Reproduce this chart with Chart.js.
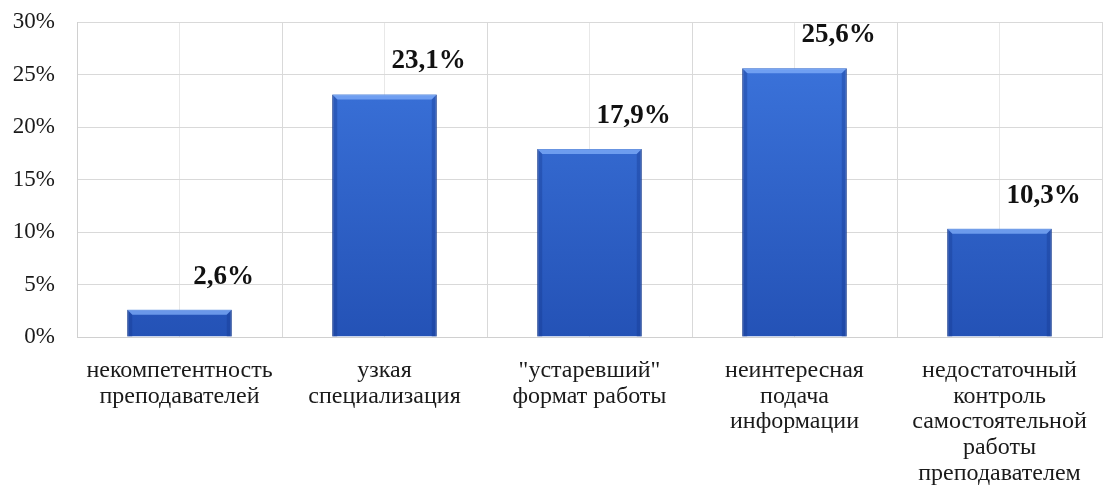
<!DOCTYPE html>
<html lang="ru">
<head>
    <meta charset="UTF-8">
    <title>Причины неудовлетворённости</title>
    <script src="https://cdn.jsdelivr.net/npm/chart.js"></script>
    <style>
        html, body { margin: 0; padding: 0; background: #fff; }
        #wrap { width: 1103px; height: 489px; position: relative; }
    </style>
</head>
<body>
    <div id="wrap"><canvas id="grafico"></canvas></div>

    <script>
        // dados
        const categorias = [
            ['некомпетентность', 'преподавателей'],
            ['узкая', 'специализация'],
            ['"устаревший"', 'формат работы'],
            ['неинтересная', 'подача', 'информации'],
            ['недостаточный', 'контроль', 'самостоятельной', 'работы', 'преподавателем']
        ];
        const valores = [2.6, 23.1, 17.9, 25.6, 10.3];
        const eixoMin = 0;
        const eixoMax = 30;
        const eixoPasso = 5;

        const fonte = '"Liberation Serif", "Times New Roman", serif';

        function formata(v) {
            return v.toFixed(1).replace('.', ',') + '%';
        }

        // rótulos de valor acima e à direita de cada barra
        const rotulosPlugin = {
            id: 'rotulos',
            afterDatasetsDraw(chart) {
                const ctx = chart.ctx;
                const meta = chart.getDatasetMeta(0);
                ctx.save();
                ctx.font = 'bold 27px ' + fonte;
                ctx.fillStyle = '#111';
                ctx.textAlign = 'center';
                ctx.textBaseline = 'middle';
                meta.data.forEach((bar, i) => {
                    ctx.fillText(formata(valores[i]), bar.x + 44, bar.y - 33);
                });
                ctx.restore();
            }
        };

        // chanfro simples nas barras (efeito 3D)
        const chanfroPlugin = {
            id: 'chanfro',
            afterDatasetsDraw(chart) {
                const ctx = chart.ctx;
                const meta = chart.getDatasetMeta(0);
                const b = 5;
                ctx.save();
                meta.data.forEach(bar => {
                    const l = bar.x - bar.width / 2;
                    const r = bar.x + bar.width / 2;
                    const t = bar.y;
                    const base = bar.base;
                    // topo claro
                    ctx.fillStyle = 'rgba(130, 175, 250, 0.75)';
                    ctx.beginPath();
                    ctx.moveTo(l, t); ctx.lineTo(r, t);
                    ctx.lineTo(r - b, t + b); ctx.lineTo(l + b, t + b);
                    ctx.closePath(); ctx.fill();
                    // lados escuros
                    ctx.fillStyle = 'rgba(20, 55, 140, 0.35)';
                    ctx.beginPath();
                    ctx.moveTo(l, t); ctx.lineTo(l + b, t + b);
                    ctx.lineTo(l + b, base); ctx.lineTo(l, base);
                    ctx.closePath(); ctx.fill();
                    ctx.beginPath();
                    ctx.moveTo(r, t); ctx.lineTo(r - b, t + b);
                    ctx.lineTo(r - b, base); ctx.lineTo(r, base);
                    ctx.closePath(); ctx.fill();
                });
                ctx.restore();
            }
        };

        const ctx = document.getElementById('grafico');
        new Chart(ctx, {
            type: 'bar',
            data: {
                labels: categorias,
                datasets: [{
                    data: valores,
                    xAxisID: 'x',
                    yAxisID: 'y',
                    backgroundColor: (c) => {
                        const area = c.chart.chartArea;
                        if (!area) return '#2f64cc';
                        const g = c.chart.ctx.createLinearGradient(0, area.top, 0, area.bottom);
                        g.addColorStop(0, '#3e77df');
                        g.addColorStop(1, '#2452b6');
                        return g;
                    },
                    borderColor: '#1d4496',
                    borderWidth: 1,
                    categoryPercentage: 1,
                    barPercentage: 0.51
                }]
            },
            plugins: [chanfroPlugin, rotulosPlugin],
            options: {
                responsive: true,
                maintainAspectRatio: false,
                animation: false,
                layout: { padding: { top: 22, right: 1, bottom: 0, left: 0 } },
                plugins: {
                    legend: { display: false },
                    tooltip: { enabled: false }
                },
                scales: {
                    x: {
                        type: 'category',
                        position: 'bottom',
                        offset: true,
                        grid: { offset: true, color: '#d9d9d9', drawTicks: false },
                        border: { color: '#d0d0d0' },
                        ticks: {
                            font: { family: fonte, size: 24, lineHeight: 1.07 },
                            color: '#1a1a1a',
                            padding: 21,
                            maxRotation: 0,
                            autoSkip: false
                        },
                        afterFit: (s) => {
                            s.height = 152;
                            s.paddingLeft = 0;
                            s.paddingRight = 0;
                        }
                    },
                    x2: {
                        type: 'category',
                        labels: categorias,
                        position: 'bottom',
                        offset: true,
                        grid: { offset: false, color: '#e8e8e8', drawTicks: false },
                        border: { display: false },
                        ticks: { display: false },
                        afterFit: (s) => {
                            s.height = 0;
                            s.paddingLeft = 0;
                            s.paddingRight = 0;
                        }
                    },
                    y: {
                        min: eixoMin,
                        max: eixoMax,
                        ticks: {
                            stepSize: eixoPasso,
                            callback: (v) => v + '%',
                            font: { family: fonte, size: 23 },
                            color: '#1a1a1a',
                            padding: 22
                        },
                        grid: { color: '#d9d9d9', drawTicks: false },
                        border: { color: '#d0d0d0' },
                        afterFit: (s) => {
                            s.width = 77;
                            s.paddingTop = 0;
                            s.paddingBottom = 0;
                        }
                    }
                }
            }
        });
    </script>
</body>
</html>
